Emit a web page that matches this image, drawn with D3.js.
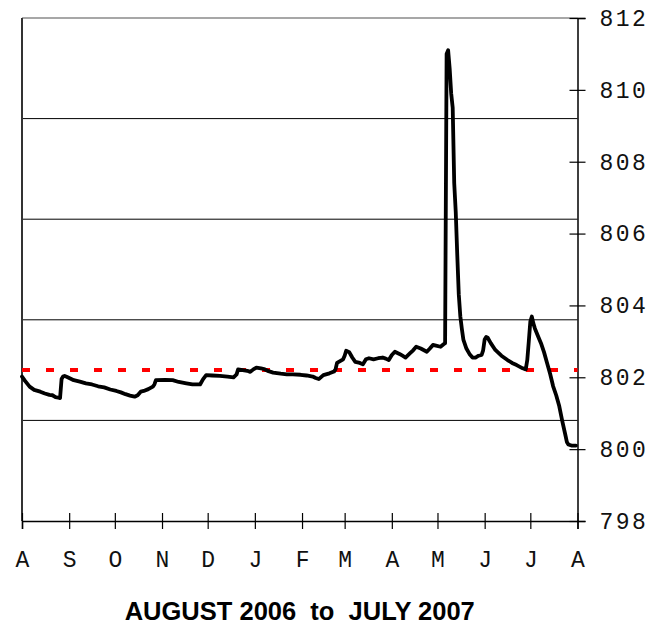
<!DOCTYPE html>
<html>
<head>
<meta charset="utf-8">
<script src="https://cdn.jsdelivr.net/npm/d3@7"></script>
<style>
  html, body { margin: 0; padding: 0; background: #fff; }
  svg { display: block; }
</style>
</head>
<body>
<svg id="chart" width="660" height="626"></svg>
<script>
// Days elapsed since 1 August 2006 and the daily water level on those days
const dayOffsets = [
  0, 2, 5, 8, 12, 15, 18, 20, 22, 24, 25, 26, 27, 28, 30, 34, 38, 42, 46, 50,
  54, 58, 62, 65, 68, 71, 74, 76, 78, 80, 83, 86, 87, 88, 94, 99, 103, 108, 112, 117,
  119, 121, 125, 130, 135, 139, 141, 142, 145, 148, 150, 152, 154, 157, 159, 162, 165, 170, 174, 178,
  183, 187, 191, 193, 195, 198, 202, 205, 206, 207, 209, 211, 212, 213, 215, 217, 219, 222, 224, 226,
  228, 231, 234, 237, 239, 241, 243, 245, 248, 250, 252, 255, 257, 259, 262, 266, 268, 270, 272, 275,
  277, 278, 279, 280, 281, 282, 283, 284, 285, 286, 287, 288, 289, 290, 292, 294, 296, 298, 300, 302,
  303, 304, 305, 306, 308, 311, 315, 319, 322, 325, 329, 331, 332, 333, 334, 335, 336, 337, 339, 341,
  343, 345, 347, 349, 351, 353, 355, 357, 358, 359, 361, 364
];
const levels = [
  802.02, 801.90, 801.74, 801.65, 801.60, 801.55, 801.51, 801.50, 801.45, 801.43, 801.42, 801.95, 802.02, 802.04, 802.00, 801.92, 801.88, 801.83, 801.80, 801.75,
  801.72, 801.66, 801.62, 801.58, 801.53, 801.49, 801.46, 801.50, 801.60, 801.62, 801.67, 801.74, 801.80, 801.92, 801.93, 801.92, 801.87, 801.83, 801.80, 801.80,
  801.95, 802.06, 802.05, 802.04, 802.02, 802.00, 802.08, 802.22, 802.20, 802.18, 802.15, 802.22, 802.27, 802.25, 802.23, 802.17, 802.13, 802.10, 802.08, 802.08,
  802.07, 802.05, 802.02, 801.98, 801.95, 802.06, 802.11, 802.16, 802.22, 802.40, 802.45, 802.50, 802.60, 802.74, 802.70, 802.55, 802.43, 802.40, 802.36, 802.50,
  802.53, 802.50, 802.53, 802.55, 802.52, 802.48, 802.62, 802.71, 802.65, 802.60, 802.55, 802.67, 802.75, 802.85, 802.80, 802.71, 802.80, 802.90, 802.88, 802.85,
  802.92, 802.95, 811.00, 811.10, 810.60, 809.90, 809.50, 807.40, 806.60, 805.40, 804.30, 803.70, 803.35, 803.05, 802.80, 802.65, 802.55, 802.55, 802.60, 802.62,
  802.75, 803.05, 803.12, 803.10, 802.95, 802.76, 802.60, 802.48, 802.40, 802.34, 802.25, 802.22, 802.48, 803.00, 803.55, 803.69, 803.50, 803.36, 803.15, 802.95,
  802.70, 802.40, 802.10, 801.75, 801.50, 801.20, 800.78, 800.40, 800.20, 800.13, 800.10, 800.10
];

// Reference level drawn as the red dashed line
const referenceLevel = 802.2;

// Axis labels
const monthLetters = ["A", "S", "O", "N", "D", "J", "F", "M", "A", "M", "J", "J", "A"];
const levelTicks = [798, 800, 802, 804, 806, 808, 810, 812];
const gridLevels = [800.8, 803.6, 806.4, 809.2];
const titleText = "AUGUST 2006  to  JULY 2007";

const startDate = new Date(2006, 7, 1);
const endDate = new Date(2007, 7, 1);

const plotLeft = 22, plotRight = 577.5, plotTop = 18, plotBottom = 521;

const svg = d3.select("#chart");

const x = d3.scaleTime().domain([startDate, endDate]).range([plotLeft, plotRight]);
const y = d3.scaleLinear().domain([798, 812]).range([plotBottom, plotTop]);

const monoFont = "'Courier New', 'Liberation Mono', Courier, monospace";

// horizontal grid lines
svg.append("g")
  .selectAll("line")
  .data(gridLevels)
  .join("line")
  .attr("x1", plotLeft).attr("x2", plotRight)
  .attr("y1", d => y(d)).attr("y2", d => y(d))
  .attr("stroke", "#000")
  .attr("stroke-width", 1);

// top border and left edge of the plot
svg.append("line")
  .attr("x1", plotLeft).attr("x2", plotRight).attr("y1", plotTop).attr("y2", plotTop)
  .attr("stroke", "#8a8a8a").attr("stroke-width", 1.5);
svg.append("line")
  .attr("x1", plotLeft).attr("x2", plotLeft).attr("y1", plotTop).attr("y2", plotBottom)
  .attr("stroke", "#333").attr("stroke-width", 2);

// right-hand level axis
const yAxis = svg.append("g")
  .attr("transform", `translate(${plotRight},0)`)
  .call(d3.axisRight(y).tickValues(levelTicks).tickSize(8).tickPadding(14).tickFormat(d3.format("d")));
yAxis.select(".domain").attr("stroke", "#000").attr("stroke-width", 1.5);
yAxis.selectAll(".tick line").attr("x1", -8).attr("x2", 8).attr("stroke", "#000").attr("stroke-width", 1.2);
yAxis.selectAll(".tick text")
  .attr("font-family", monoFont)
  .attr("font-size", 23)
  .attr("letter-spacing", 2.5)
  .attr("fill", "#111");

// bottom month axis
const months = d3.timeMonth.range(startDate, d3.timeDay.offset(endDate, 1));
const xAxis = svg.append("g")
  .attr("transform", `translate(0,${plotBottom})`)
  .call(d3.axisBottom(x).tickValues(months).tickSize(8).tickFormat((d, i) => monthLetters[i]));
xAxis.select(".domain").attr("stroke", "#000").attr("stroke-width", 1.5);
xAxis.selectAll(".tick line").attr("y1", -8).attr("y2", 8).attr("stroke", "#000").attr("stroke-width", 1.2);
xAxis.selectAll(".tick text")
  .attr("y", 46).attr("dy", 0)
  .attr("font-family", monoFont)
  .attr("font-size", 23)
  .attr("fill", "#111");

// red dashed reference line
svg.append("line")
  .attr("x1", plotLeft).attr("x2", plotRight)
  .attr("y1", y(referenceLevel)).attr("y2", y(referenceLevel))
  .attr("stroke", "#ff0000")
  .attr("stroke-width", 4)
  .attr("stroke-dasharray", "8,16");

// water level series
const series = dayOffsets.map((d, i) => ({ date: d3.timeDay.offset(startDate, d), value: levels[i] }));
svg.append("path")
  .datum(series)
  .attr("fill", "none")
  .attr("stroke", "#000")
  .attr("stroke-width", 3.8)
  .attr("stroke-linejoin", "round")
  .attr("stroke-linecap", "round")
  .attr("d", d3.line().x(d => x(d.date)).y(d => y(d.value)));

// caption
svg.append("text")
  .attr("x", (plotLeft + plotRight) / 2)
  .attr("y", 620)
  .attr("text-anchor", "middle")
  .attr("font-family", "'Liberation Sans', Arial, Helvetica, sans-serif")
  .attr("font-weight", "bold")
  .attr("font-size", 25.5)
  .style("white-space", "pre")
  .attr("fill", "#000")
  .text(titleText);
</script>
</body>
</html>
